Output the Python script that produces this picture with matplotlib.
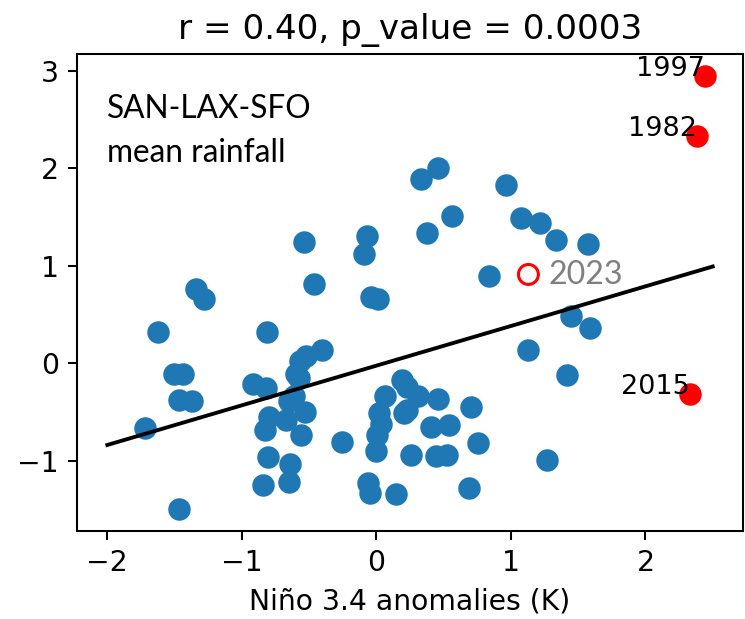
import matplotlib
matplotlib.use('Agg')
import matplotlib.pyplot as plt

# Niño 3.4 anomaly (K) and standardised rainfall, one entry per year
nino = [0.461, 0.332, 0.967, -0.068, -0.093, -0.537, 0.564, 0.376, 1.073, 1.219,
        1.337, 1.572, 0.839, -0.463, -0.043, 0.011, -1.339, -1.283, -1.624, -0.816,
        1.450, 1.589, 1.124, 1.419, -0.401, -0.524, -0.569, -0.599, -0.574, -0.920,
        -0.821, -0.611, -0.648, -0.796, -0.673, -0.530, -0.828, -0.561, -0.258, 0.019,
        0.031, 0.006, -0.006, 0.063, 0.191, 0.228, 0.310, 0.456, 0.228, 0.204,
        0.705, 0.537, 0.409, 0.754, 0.261, 0.446, 0.524, 1.270, 0.690, 0.147,
        -0.063, -0.048, -0.809, -0.643, -0.841, -0.648, -1.468, -1.717, -1.505, -1.439,
        -1.468, -1.372]
rain = [2.00, 1.89, 1.83, 1.30, 1.12, 1.24, 1.51, 1.34, 1.49, 1.44,
        1.26, 1.22, 0.89, 0.81, 0.68, 0.66, 0.76, 0.66, 0.32, 0.32,
        0.48, 0.36, 0.13, -0.12, 0.13, 0.07, 0.02, -0.11, -0.15, -0.21,
        -0.26, -0.34, -0.39, -0.55, -0.58, -0.50, -0.69, -0.74, -0.81, -0.51,
        -0.62, -0.74, -0.90, -0.34, -0.17, -0.24, -0.34, -0.37, -0.48, -0.51,
        -0.45, -0.63, -0.66, -0.82, -0.94, -0.95, -0.94, -0.99, -1.28, -1.34,
        -1.23, -1.33, -0.96, -1.04, -1.25, -1.22, -1.50, -0.67, -0.11, -0.11,
        -0.38, -0.39]

# strong El Niño years
big_years = [1997, 1982, 2015]
big_nino = [2.44, 2.38, 2.33]
big_rain = [2.95, 2.33, -0.32]

# current year
now_year = 2023
now_nino = 1.13
now_rain = 0.91

# linear fit
slope = 0.407
intercept = -0.026
fit_x = [-2.0, 2.5]

plt.rcParams['font.size'] = 11

fig = plt.figure(figsize=(745 / 185, 619 / 185), dpi=185)
ax = fig.add_axes([0.1034, 0.1422, 0.8939, 0.7706])

ax.scatter(nino, rain, s=60, color='tab:blue')
ax.scatter(big_nino, big_rain, s=60, color='red')
for yr, xx, yy in zip(big_years, big_nino, big_rain):
    ax.text(xx, yy, str(yr), ha='right', fontsize=10.5)
ax.scatter([now_nino], [now_rain], s=60, facecolors='none', edgecolors='red', linewidths=1.2)
ax.text(now_nino + 0.15, now_rain - 0.1, str(now_year), color='grey',
        fontsize=12.5, family='Lato')

ax.plot(fit_x, [slope * v + intercept for v in fit_x], color='k')

ax.text(-2.0, 2.06, 'SAN-LAX-SFO\nmean rainfall', fontsize=12.3, family='Lato',
        va='baseline', linespacing=1.6)

ax.set_title('r = 0.40, p_value = 0.0003', fontsize=13.3)
ax.set_xlabel('Niño 3.4 anomalies (K)')

fig.savefig('out.png', dpi=185)
